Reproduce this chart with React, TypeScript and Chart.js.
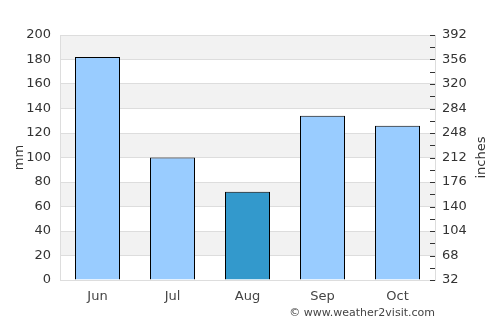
import React, { useEffect, useRef } from "react";
import { Chart, registerables } from "chart.js";

Chart.register(...registerables);

const months = ["Jun", "Jul", "Aug", "Sep", "Oct"];
const rainfallMm = [182, 100, 72, 134, 126];
const barColors = ["#99ccff", "#99ccff", "#3399cc", "#99ccff", "#99ccff"];
const rightMin = 32;
const rightMax = 392;
const rightStep = 18;
const watermark = "© www.weather2visit.com";
const leftTitle = "mm";
const rightTitle = "inches";

const FONT = "'DejaVu Sans', sans-serif";

const bandsPlugin = {
  id: "bands",
  beforeDraw(chart: any) {
    const { ctx, chartArea } = chart;
    const y = chart.scales.y;
    const ticks = y.ticks;
    ctx.save();
    ctx.fillStyle = "#f2f2f2";
    for (let i = 0; i < ticks.length - 1; i++) {
      if (i % 2 === 1) {
        const y0 = y.getPixelForValue(ticks[i].value);
        const y1 = y.getPixelForValue(ticks[i + 1].value);
        ctx.fillRect(chartArea.left, y1, chartArea.right - chartArea.left, y0 - y1);
      }
    }
    ctx.restore();
  },
  afterDraw(chart: any) {
    const { ctx, chartArea } = chart;
    const y1s = chart.scales.y1;
    ctx.save();
    // inward tick marks on the right axis
    ctx.strokeStyle = "#333";
    ctx.lineWidth = 1;
    ctx.beginPath();
    for (const t of y1s.ticks) {
      const py = Math.round(y1s.getPixelForValue(t.value)) + 0.5;
      ctx.moveTo(chartArea.right - 5, py);
      ctx.lineTo(chartArea.right, py);
    }
    ctx.stroke();
    ctx.fillStyle = "#444";
    ctx.font = `11px ${FONT}`;
    ctx.textAlign = "right";
    ctx.textBaseline = "middle";
    ctx.fillText(watermark, chartArea.right, 313);
    // right axis title, reading bottom-to-top
    ctx.fillStyle = "#333";
    ctx.font = `13px ${FONT}`;
    ctx.textAlign = "center";
    ctx.translate(482, (chartArea.top + chartArea.bottom) / 2);
    ctx.rotate(-Math.PI / 2);
    ctx.fillText(rightTitle, 0, 0);
    ctx.restore();
  },
};

export default function App() {
  const ref = useRef<HTMLCanvasElement>(null);
  useEffect(() => {
    document.body.style.margin = "0";
    const chart = new Chart(ref.current!, {
      type: "bar",
      data: {
        labels: months,
        datasets: [
          {
            data: rainfallMm,
            backgroundColor: barColors,
            borderColor: "#000",
            borderWidth: 1,
            barPercentage: 0.6,
            categoryPercentage: 1,
            yAxisID: "y",
          },
        ],
      },
      options: {
        animation: false,
        responsive: false,
        devicePixelRatio: 1,
        layout: { padding: { top: 35, left: 0, right: 0, bottom: 0 } },
        plugins: { legend: { display: false }, tooltip: { enabled: false } },
        scales: {
          x: {
            grid: { display: false, drawTicks: false },
            border: { display: true, color: "#ddd" },
            ticks: { color: "#444", font: { family: FONT, size: 13 }, padding: 9 },
            afterFit(s: any) {
              s.height = 45;
            },
          },
          y: {
            position: "left",
            min: 0,
            max: 200,
            ticks: { stepSize: 20, color: "#333", font: { family: FONT, size: 13 }, padding: 9 },
            grid: { color: "#ddd", drawTicks: false },
            border: { display: true, color: "#ddd" },
            title: {
              display: true,
              text: leftTitle,
              color: "#333",
              font: { family: FONT, size: 13 },
              padding: { top: 12, bottom: 0 },
            },
            afterFit(s: any) {
              s.width = 60;
            },
          },
          y1: {
            position: "right",
            min: rightMin,
            max: rightMax,
            ticks: {
              stepSize: rightStep,
              autoSkip: false,
              color: "#333",
              font: { family: FONT, size: 13 },
              padding: 7,
              callback: (v: any) => ((Number(v) - rightMin) % (rightStep * 2) === 0 ? String(v) : ""),
            },
            grid: { drawOnChartArea: false, drawTicks: false },
            border: { display: true, color: "#ddd" },
            afterFit(s: any) {
              s.width = 65;
            },
          },
        },
      },
      plugins: [bandsPlugin],
    });
    return () => chart.destroy();
  }, []);
  return (
    <div style={{ width: 500, height: 325 }}>
      <canvas ref={ref} width={500} height={325} />
    </div>
  );
}
